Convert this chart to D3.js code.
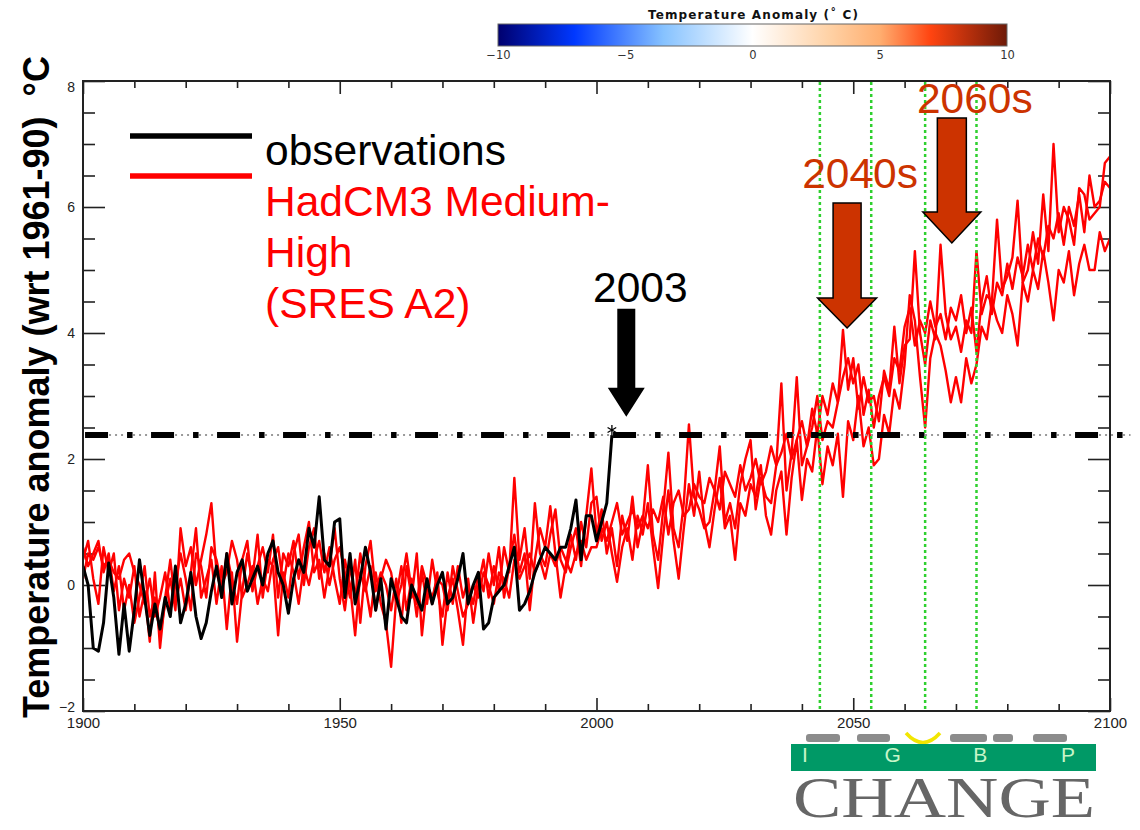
<!DOCTYPE html>
<html>
<head>
<meta charset="utf-8">
<script src="https://cdn.jsdelivr.net/npm/d3@7"></script>
<style>
body { margin: 0; background: #fff; }
svg { font-family: "Liberation Sans", Arial, sans-serif; }
</style>
</head>
<body>
<div class="container"></div>
<script>
// ---- data ----
var modelStart = 1900;
var obsStart = 1900;

// HadCM3 medium-high (SRES A2) ensemble members, annual, 1900-2100
var memberA = [
	0.6, 0.3, 0.5, 0.7, 0.2, 0.5, -0.1, 0.3, -0.4, 0.0,
	-0.6, -0.2, 0.3, -0.5, -0.2, -0.8, -0.3, 0.1, -0.4, 0.9,
	0.3, 0.6, 0.0, 0.4, 0.8, 1.3, 0.2, -0.1, 0.5, 0.1,
	-0.3, 0.4, 0.7, -0.1, 0.3, 0.6, 0.2, 0.8, -0.2, 0.5,
	0.3, 0.7, 0.1, 0.6, 1.0, 0.2, 0.4, -0.2, 0.3, 0.9,
	0.1, -0.4, 0.3, -0.2, 0.5, 0.0, -0.5, 0.2, -0.3, -0.6,
	-1.3, -0.2, 0.3, -0.4, 0.1, -0.5, 0.2, -0.3, 0.4, -0.1,
	-0.5, 0.2, -0.3, 0.3, -0.2, 0.1, -0.6, 0.0, 0.4, -0.2,
	0.3, -0.1, 0.6, 0.2, 1.7, 0.4, 0.9, 0.1, 1.3, 0.5,
	0.3, 0.8, 1.2, 0.4, 0.2, 0.6, 0.9, 0.3, 1.1, 1.85,
	0.8, 1.2, 0.5, 0.9, 0.3, 1.1, 0.7, 1.4, 0.6, 1.0,
	1.9, 0.8, 0.4, 1.2, 2.1, 0.9, 0.6, 1.3, 2.55, 1.4,
	1.2, 0.9, 1.0, 1.5, 2.2, 1.0, 1.3, 0.9, 1.6, 2.0,
	2.3, 1.2, 1.7, 1.4, 1.3, 1.9, 3.2, 1.5, 2.1, 3.3,
	1.9, 2.2, 2.5, 3.0, 2.3, 2.6, 2.5, 2.9, 4.05, 3.1,
	3.6, 2.8, 3.3, 2.9, 3.0, 2.6, 3.4, 3.1, 4.1, 3.2,
	3.8, 3.9, 5.3, 4.0, 3.5, 4.2, 3.9, 5.4, 4.3, 3.9,
	4.1, 3.7, 4.2, 4.0, 5.3, 4.3, 4.6, 4.5, 5.8, 4.7,
	4.9, 5.2, 6.1, 4.8, 5.0, 5.6, 5.1, 6.2, 5.3, 7.0,
	5.6, 6.0, 5.8, 5.4, 6.3, 6.2, 5.8, 5.9, 6.0, 6.7,
	6.8
];

var memberB = [
	0.4, 0.7, 0.1, -0.3, 0.6, 0.2, 0.5, -0.4, 0.1, -0.2,
	0.3, -0.5, -0.1, -0.9, 0.2, -1.0, -0.2, 0.4, -0.3, 0.1,
	-0.4, 0.2, 0.9, -0.2, 0.1, 0.4, -0.3, 0.3, -0.7, 0.2,
	-0.9, -0.1, 0.5, 0.1, 0.8, -0.2, 0.4, 0.3, -0.8, 0.2,
	-0.2, 0.5, 0.8, 0.0, 0.6, 0.9, 0.1, 0.5, 0.0, 0.4,
	0.6, 0.2, -0.2, 0.4, -0.6, 0.3, 0.7, -0.1, 0.2, 0.0,
	-0.4, 0.1, -0.6, 0.3, -0.2, 0.5, -0.8, 0.0, -0.3, 0.2,
	-0.95, -0.2, 0.1, -0.4, -0.95, 0.0, -0.3, 0.2, -0.1, 0.5,
	0.0, 0.6, -0.2, 0.3, 0.8, 0.2, 0.5, -0.4, 0.4, 0.9,
	0.6, 1.25, 0.5, -0.2, 0.3, 0.8, 0.4, 1.0, 0.6, 1.3,
	1.4, 0.7, 1.0, 0.5, 0.05, 0.6, 0.9, 0.4, 1.1, 0.8,
	1.3, 0.6, -0.05, 0.8, 1.5, 0.7, 0.1, 0.9, 1.6, 1.1,
	1.8, 1.0, 0.6, 1.2, 1.7, 0.9, 1.1, 0.4, 1.3, 1.1,
	1.6, 1.4, 1.9, 1.1, 0.8, 1.5, 1.8, 0.8, 1.7, 2.3,
	1.35, 2.0, 1.8, 2.5, 1.6, 2.2, 1.9, 2.4, 1.4, 2.6,
	2.3, 3.0, 2.2, 2.5, 1.9, 2.0, 2.7, 2.4, 3.1, 2.8,
	3.5, 4.6, 4.2, 3.3, 2.5, 3.6, 4.0, 3.8, 3.4, 2.9,
	3.3, 2.9, 3.6, 3.2, 3.5, 4.1, 3.9, 4.5, 4.2, 4.0,
	4.6, 4.3, 3.8, 4.8, 4.5, 5.0, 4.7, 5.3, 4.8, 4.2,
	5.0, 4.8, 5.3, 4.6, 5.1, 5.4, 5.0, 5.0, 5.6, 5.3,
	5.5
];

var memberC = [
	0.1, 0.5, 0.4, 0.6, 0.3, 0.4, 0.2, 0.1, 0.4, 0.5,
	0.2, 0.0, -0.3, 0.1, -0.5, -0.2, 0.2, -0.4, 0.0, 0.5,
	0.1, -0.4, 0.5, 0.3, -0.2, 0.6, 0.4, 0.0, 0.2, 0.7,
	0.4, -0.2, 0.0, 0.3, -0.3, 0.1, -0.1, 0.4, 0.6, 0.0,
	0.5, 0.2, -0.3, 0.3, 0.0, 0.4, 0.7, 0.2, 0.6, 0.1,
	-0.3, 0.4, 0.0, -0.8, 0.2, -0.1, 0.3, -0.4, 0.1, 0.4,
	0.2, -0.3, 0.0, 0.5, -0.1, -0.3, 0.3, 0.0, -0.2, 0.1,
	0.0, -0.4, 0.3, -0.1, -0.5, -0.3, 0.0, -0.2, 0.2, 0.0,
	-0.3, 0.2, 0.1, -0.2, 0.4, 0.1, 0.3, 0.5, 0.2, 0.4,
	0.1, 0.5, 0.3, 0.6, 0.4, 0.2, 0.5, 0.7, 0.4, 0.6,
	0.6, 0.9, 0.7, 1.0, 1.3, 0.8, 1.0, 1.2, 0.9, 1.1,
	0.9, 1.2, 1.0, 1.4, 0.8, 1.3, 1.5, 1.1, 1.2, 1.6,
	1.4, 1.3, 1.7, 1.5, 1.2, 1.8, 1.6, 1.4, 1.9, 1.5,
	1.7, 2.0, 1.6, 1.8, 2.2, 1.9, 2.1, 2.4, 2.0, 2.3,
	2.6, 2.2, 2.8, 2.4, 3.0, 2.7, 3.2, 2.9, 3.3, 3.6,
	3.2, 3.5, 2.7, 3.1, 2.5, 3.0, 3.3, 3.0, 3.6, 3.4,
	4.1, 4.4, 3.8, 4.2, 4.0, 4.5, 4.1, 4.3, 3.9, 4.4,
	4.2, 4.6, 4.0, 4.4, 3.7, 4.5, 4.9, 4.3, 4.8, 4.6,
	5.1, 4.7, 5.2, 4.9, 5.4, 5.0, 5.5, 5.2, 5.7, 5.5,
	5.9, 5.4, 6.0, 5.7, 6.2, 5.6, 6.5, 6.0, 6.1, 6.4,
	6.3
];

// observations 1900-2003
var observations = [
	0.3, 0.0, -1.0, -1.05, -0.6, 0.35, -0.2, -1.1, -0.3, -1.05,
	-0.4, 0.4, -0.2, -0.8, -0.3, -0.7, -0.2, -0.5, 0.3, -0.6,
	-0.3, 0.2, -0.5, -0.85, -0.6, -0.1, 0.3, -0.2, 0.5, -0.3,
	0.2, 0.4, -0.1, 0.1, 0.3, 0.0, 0.5, 0.7, 0.2, 0.0,
	-0.45, 0.1, 0.4, 0.2, 0.9, 0.6, 1.4, 0.4, 0.3, 1.0,
	1.05, -0.2, 0.5, -0.3, 0.1, 0.6, 0.2, -0.4, 0.1, -0.7,
	0.1, -0.2, -0.5, -0.6, 0.0, -0.2, -0.4, 0.1, -0.3, 0.0,
	0.2, -0.3, -0.2, 0.1, 0.5, -0.3, 0.0, 0.2, -0.7, -0.6,
	-0.2, -0.1, 0.0, 0.3, 0.6, -0.4, -0.3, -0.1, 0.2, 0.4,
	0.6, 0.5, 0.4, 0.6, 0.6, 0.9, 1.35, 0.4, 1.1, 1.1,
	0.7, 1.0, 1.3, 2.38
];

var threshold = 2.38;          // 2003 value, drawn across the chart
var periodBounds = [2043.5, 2053.5, 2064, 2074];

var xTicksMajor = [1900, 1950, 2000, 2050, 2100];
var yTicksMajor = [-2, 0, 2, 4, 6, 8];

var legendLabels = [
	{lines: ["observations"], color: "#000"},
	{lines: ["HadCM3 Medium-", "High", "(SRES A2)"], color: "#ff0000"}
];

var arrows = [
	{label: "2003", year: 2005.8, value: 2.67},
	{label: "2040s", year: 2048.8, value: 4.08},
	{label: "2060s", year: 2069.2, value: 5.43}
];

var colorbarTicks = [-10, -5, 0, 5, 10];
var colorbarStops = [
	{v: -10, c: "#00006e"}, {v: -7, c: "#0038ff"}, {v: -3.5, c: "#86c2ff"},
	{v: 0, c: "#ffffff"}, {v: 3, c: "#ffd2a6"}, {v: 5, c: "#ffae70"},
	{v: 7, c: "#ff4410"}, {v: 10, c: "#6e1a08"}
];

var logoLetters = ["I", "G", "B", "P"];

// ---- layout ----
const WIDTH = 1140;
const HEIGHT = 830;
const LEFT = 83, RIGHT = 1110, TOP = 81, BOTTOM = 711;

var translate = function(x, y){
	return "translate(" + x + "," + y + ")";
};

var svg = d3.select('.container').append('svg')
	.attr('width', WIDTH)
	.attr('height', HEIGHT);

svg.append('rect').attr('width', WIDTH).attr('height', HEIGHT).attr('fill', '#fff');

var xScale = d3.scaleLinear().domain([1900, 2100]).range([LEFT, RIGHT]);
var yScale = d3.scaleLinear().domain([-2, 8]).range([BOTTOM, TOP]);

var defs = svg.append('defs');
defs.append('clipPath').attr('id', 'plotclip')
	.append('rect')
	.attr('x', LEFT).attr('y', TOP)
	.attr('width', RIGHT - LEFT).attr('height', BOTTOM - TOP);

// ---- axes ----
var styleAxis = function(g, size){
	g.select('.domain').remove();
	g.selectAll('line').attr('stroke', '#222').attr('stroke-width', 1.6);
	g.selectAll('text').attr('fill', '#222').attr('font-size', size);
	return g;
};

var xMinor = d3.range(1910, 2100, 10).filter(function(y){ return y % 50 !== 0; });
var yMinor = d3.range(-1.5, 8, 0.5).filter(function(v){ return v % 2 !== 0; });

styleAxis(svg.append('g').attr('transform', translate(0, BOTTOM))
	.call(d3.axisBottom(xScale).tickValues(xTicksMajor).tickSize(-13).tickPadding(6).tickFormat(d3.format('d'))), 15);
styleAxis(svg.append('g').attr('transform', translate(0, BOTTOM))
	.call(d3.axisBottom(xScale).tickValues(xMinor).tickSize(-7).tickFormat('')), 15);
styleAxis(svg.append('g').attr('transform', translate(0, TOP))
	.call(d3.axisTop(xScale).tickValues(xTicksMajor).tickSize(-13).tickFormat('')), 15);
styleAxis(svg.append('g').attr('transform', translate(0, TOP))
	.call(d3.axisTop(xScale).tickValues(xMinor).tickSize(-7).tickFormat('')), 15);

var yLab = styleAxis(svg.append('g').attr('transform', translate(LEFT, 0))
	.call(d3.axisLeft(yScale).tickValues(yTicksMajor).tickSize(-22).tickPadding(8)), 14);
yLab.selectAll('text').filter(function(d){ return d === 8; }).attr('dy', '0.75em');
yLab.selectAll('text').filter(function(d){ return d === -2; }).attr('dy', '0em');
styleAxis(svg.append('g').attr('transform', translate(LEFT, 0))
	.call(d3.axisLeft(yScale).tickValues(yMinor).tickSize(-12).tickFormat('')), 14);
styleAxis(svg.append('g').attr('transform', translate(RIGHT, 0))
	.call(d3.axisRight(yScale).tickValues(yTicksMajor).tickSize(-22).tickFormat('')), 14);
styleAxis(svg.append('g').attr('transform', translate(RIGHT, 0))
	.call(d3.axisRight(yScale).tickValues(yMinor).tickSize(-12).tickFormat('')), 14);

// ---- series ----
var seriesLine = function(start){
	return d3.line()
		.x(function(d, i){ return xScale(start + i); })
		.y(function(d){ return yScale(d); });
};

var plot = svg.append('g').attr('clip-path', 'url(#plotclip)');

plot.selectAll('path.model').data([memberC, memberB, memberA])
	.enter().append('path')
	.classed('model', true)
	.attr('d', seriesLine(modelStart))
	.attr('fill', 'none')
	.attr('stroke', '#ff0000')
	.attr('stroke-width', 2.4)
	.attr('stroke-linejoin', 'round');

plot.append('path')
	.datum(observations)
	.attr('d', seriesLine(obsStart))
	.attr('fill', 'none')
	.attr('stroke', '#000')
	.attr('stroke-width', 3)
	.attr('stroke-linejoin', 'round');

// 2003 threshold: grey dotted line with a black dash-dot pattern on top
var thrY = yScale(threshold);
svg.append('line')
	.attr('x1', xScale(1900.4)).attr('x2', xScale(2104))
	.attr('y1', thrY).attr('y2', thrY)
	.attr('stroke', '#9a9a9a').attr('stroke-width', 2)
	.attr('stroke-dasharray', '2,4');
svg.append('line')
	.attr('x1', xScale(1900.4)).attr('x2', xScale(2104))
	.attr('y1', thrY).attr('y2', thrY)
	.attr('stroke', '#000').attr('stroke-width', 6)
	.attr('stroke-dasharray', '23,19,5.5,18.5');

svg.append('path')
	.attr('transform', translate(xScale(obsStart + observations.length - 1), thrY - 5))
	.attr('d', d3.symbol(d3.symbolAsterisk, 70)())
	.attr('fill', 'none').attr('stroke', '#000').attr('stroke-width', 1.3);

// green period markers
svg.selectAll('line.period').data(periodBounds)
	.enter().append('line')
	.classed('period', true)
	.attr('x1', function(d){ return xScale(d); })
	.attr('x2', function(d){ return xScale(d); })
	.attr('y1', TOP + 1).attr('y2', BOTTOM)
	.attr('stroke', '#2fd02f').attr('stroke-width', 2.5)
	.attr('stroke-dasharray', '3,3');

// frame
svg.append('rect')
	.attr('x', LEFT).attr('y', TOP)
	.attr('width', RIGHT - LEFT).attr('height', BOTTOM - TOP)
	.attr('fill', 'none').attr('stroke', '#222').attr('stroke-width', 2);

// ---- arrows ----
var arrowStyle = [
	{fill: "#000", stroke: "none", sw: 18, len: 108, head: 29, hw: 37, color: "#000", dx: 14, dy: -115},
	{fill: "#cc3300", stroke: "#000", sw: 28, len: 125, head: 30, hw: 59, color: "#cc3300", dx: 13, dy: -140},
	{fill: "#cc3300", stroke: "#000", sw: 29, len: 125, head: 31, hw: 58, color: "#cc3300", dx: 23, dy: -130}
];

arrows.forEach(function(a, i){
	var s = arrowStyle[i];
	var tx = xScale(a.year), ty = yScale(a.value);
	var pts = [
		[tx - s.sw / 2, ty - s.len], [tx + s.sw / 2, ty - s.len],
		[tx + s.sw / 2, ty - s.head], [tx + s.hw / 2, ty - s.head],
		[tx, ty],
		[tx - s.hw / 2, ty - s.head], [tx - s.sw / 2, ty - s.head]
	];
	svg.append('path')
		.attr('d', d3.line()(pts) + 'Z')
		.attr('fill', s.fill)
		.attr('stroke', s.stroke)
		.attr('stroke-width', 1.5);
	svg.append('text')
		.attr('x', tx + s.dx).attr('y', ty + s.dy)
		.attr('text-anchor', 'middle')
		.attr('font-size', 42.5)
		.attr('fill', s.color)
		.text(a.label);
});

// ---- legend ----
svg.append('line').attr('x1', 130).attr('x2', 252).attr('y1', 136).attr('y2', 136)
	.attr('stroke', '#000').attr('stroke-width', 5.5);
svg.append('line').attr('x1', 130).attr('x2', 252).attr('y1', 176).attr('y2', 176)
	.attr('stroke', '#ff0000').attr('stroke-width', 5.5);

var lineY = 165;
legendLabels.forEach(function(l){
	l.lines.forEach(function(t){
		svg.append('text')
			.attr('x', 265).attr('y', lineY)
			.attr('font-size', 42.5)
			.attr('fill', l.color)
			.text(t);
		lineY += 51;
	});
});

// ---- y title ----
svg.append('text')
	.attr('transform', translate(49, 718) + ' rotate(-90)')
	.attr('font-size', 36)
	.attr('font-weight', 'bold')
	.attr('fill', '#000')
	.style('white-space', 'pre')
	.text('Temperature anomaly (wrt 1961-90)  \u00b0C');

// ---- colour bar ----
var cbScale = d3.scaleLinear().domain([-10, 10]).range([498, 1007]);
var grad = defs.append('linearGradient').attr('id', 'cbgrad');
grad.selectAll('stop').data(colorbarStops).enter().append('stop')
	.attr('offset', function(d){ return ((d.v + 10) / 20 * 100) + '%'; })
	.attr('stop-color', function(d){ return d.c; });

svg.append('rect')
	.attr('x', cbScale(-10)).attr('y', 24)
	.attr('width', cbScale(10) - cbScale(-10)).attr('height', 22)
	.attr('fill', 'url(#cbgrad)')
	.attr('stroke', '#666').attr('stroke-width', 1);

var cbAxis = svg.append('g').attr('transform', translate(0, 47))
	.call(d3.axisBottom(cbScale).tickValues(colorbarTicks).tickSize(0).tickPadding(4));
cbAxis.select('.domain').remove();
cbAxis.selectAll('text').attr('font-size', 11.5).attr('fill', '#333')
	.attr('font-family', '"DejaVu Sans", sans-serif');

svg.append('text')
	.attr('x', 753).attr('y', 19)
	.attr('text-anchor', 'middle')
	.attr('font-size', 12)
	.attr('font-weight', 600)
	.attr('font-family', '"DejaVu Sans", sans-serif')
	.attr('fill', '#111')
	.attr('textLength', 210)
	.attr('lengthAdjust', 'spacing')
	.text('Temperature Anomaly (\u02da C)');

// ---- IGBP logo (cropped at the bottom of the slide) ----
var logo = svg.append('g');
[[806, 34], [857, 33], [950, 37], [993, 20], [1033, 34]].forEach(function(b){
	logo.append('rect').attr('x', b[0]).attr('y', 734).attr('width', b[1]).attr('height', 8)
		.attr('rx', 3).attr('fill', '#8c8c8c');
});
logo.append('path')
	.attr('d', 'M906,733 Q923,752 940,733')
	.attr('fill', 'none').attr('stroke', '#f2e600').attr('stroke-width', 3.5);
logo.append('rect').attr('x', 791).attr('y', 744).attr('width', 305).attr('height', 27)
	.attr('fill', '#009966');
var letterX = d3.scalePoint().domain(logoLetters).range([805, 1068]);
logo.selectAll('text.igbp').data(logoLetters).enter().append('text')
	.classed('igbp', true)
	.attr('x', function(d){ return letterX(d); }).attr('y', 762)
	.attr('text-anchor', 'middle').attr('font-size', 21)
	.attr('fill', '#c8f5c8').text(function(d){ return d; });
logo.append('text')
	.attr('x', 793).attr('y', 817)
	.attr('font-family', '"Liberation Serif", "Times New Roman", serif')
	.attr('font-size', 56)
	.attr('fill', '#666')
	.attr('textLength', 302)
	.attr('lengthAdjust', 'spacingAndGlyphs')
	.text('CHANGE');
</script>
</body>
</html>
